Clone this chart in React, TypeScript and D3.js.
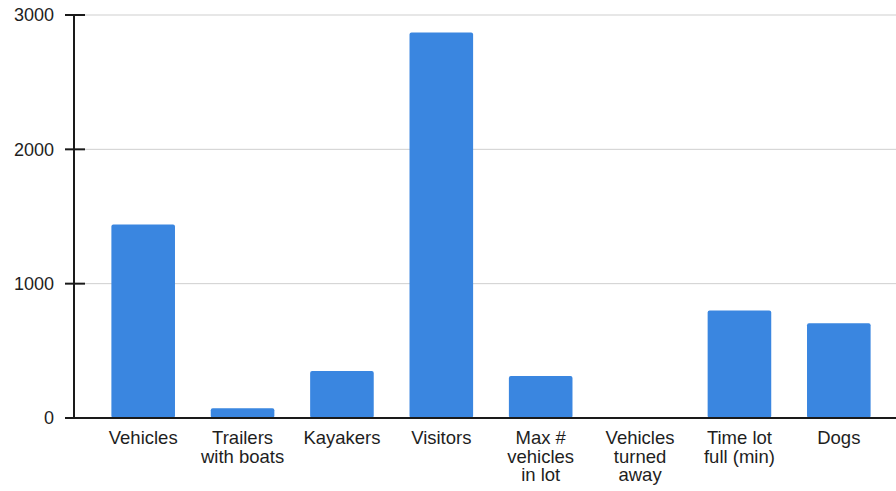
import React from "react";
import * as d3 from "d3";

const categories: string[][] = [
  ["Vehicles"],
  ["Trailers", "with boats"],
  ["Kayakers"],
  ["Visitors"],
  ["Max #", "vehicles", "in lot"],
  ["Vehicles", "turned", "away"],
  ["Time lot", "full (min)"],
  ["Dogs"],
];
const values: number[] = [1440, 72, 350, 2870, 312, 0, 800, 705];
const yTicks: number[] = [0, 1000, 2000, 3000];

const W = 896;
const H = 491;
const FONT = "'Liberation Sans', Arial, sans-serif";

export default function App() {
  const keys = categories.map((c) => c.join(" "));
  const x = d3
    .scaleBand<string>()
    .domain(keys)
    .range([93.5, 888.5])
    .paddingInner(0.36)
    .paddingOuter(0.18);
  const y = d3.scaleLinear().domain([0, 3000]).range([418, 15]);

  return (
    <svg
      width={W}
      height={H}
      style={{ position: "absolute", left: 0, top: 0, background: "#fff" }}
      fontFamily={FONT}
    >
      {yTicks.map((t) => (
        <g key={t}>
          {t > 0 && (
            <line x1={85} x2={W} y1={y(t)} y2={y(t)} stroke="#cfcfcf" strokeWidth={1} />
          )}
          <line x1={65} x2={85} y1={y(t)} y2={y(t)} stroke="#1a1a1a" strokeWidth={2} />
          <text
            x={54}
            y={y(t)}
            dy="0.35em"
            textAnchor="end"
            fontSize={18}
            fill="#1e1e1e"
          >
            {t}
          </text>
        </g>
      ))}
      {values.map((v, i) => {
        const k = keys[i];
        if (v <= 0) return null;
        return (
          <rect
            key={k}
            x={x(k)}
            y={y(v)}
            width={x.bandwidth()}
            height={y(0) - y(v)}
            fill="#3a86e0"
            rx={2}
          />
        );
      })}
      <line x1={74} x2={74} y1={y(3000)} y2={y(0)} stroke="#1a1a1a" strokeWidth={2} />
      <line x1={65} x2={W} y1={y(0)} y2={y(0)} stroke="#1a1a1a" strokeWidth={2} />
      {categories.map((lines, i) => {
        const k = keys[i];
        const cx = (x(k) as number) + x.bandwidth() / 2;
        return (
          <text key={k} textAnchor="middle" fontSize={18.5} fill="#1e1e1e">
            {lines.map((ln, j) => (
              <tspan key={j} x={cx} y={444 + j * 18.5}>
                {ln}
              </tspan>
            ))}
          </text>
        );
      })}
    </svg>
  );
}
